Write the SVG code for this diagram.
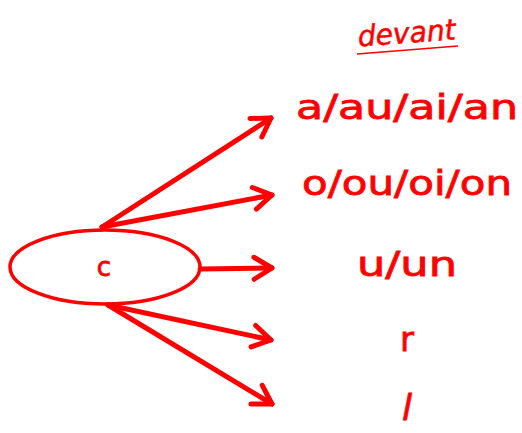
<svg xmlns="http://www.w3.org/2000/svg" width="522" height="433" viewBox="0 0 522 433">
<defs>
<style>
.t{font-family:"DejaVu Sans","Noto Sans",sans-serif;fill:#ff0000;stroke:#ff0000;stroke-width:0.8;text-anchor:middle}
.ln{stroke:#ff0000;stroke-width:5;fill:none;stroke-linecap:round;stroke-linejoin:round}
</style>
<marker id="ah" markerUnits="userSpaceOnUse" viewBox="-24 -14 28 28" markerWidth="28" markerHeight="28" refX="0" refY="0" orient="auto">
<polyline points="-18,-11 0,0 -18,11" fill="none" stroke="#ff0000" stroke-width="5" stroke-linecap="round" stroke-linejoin="round"/>
</marker>
</defs>
<rect width="522" height="433" fill="#ffffff"/>
<g id="title">
<text class="t" x="407" y="43" font-size="29" font-style="italic" textLength="98" lengthAdjust="spacingAndGlyphs" transform="rotate(-4 407 38)" style="stroke-width:0.5">devant</text>
<line x1="357" y1="54" x2="458" y2="46" stroke="#ff0000" stroke-width="1.5"/>
</g>
<g id="connectors">
<line class="ln" x1="102" y1="227" x2="271" y2="118" marker-end="url(#ah)"/>
<line class="ln" x1="102" y1="227" x2="272" y2="195" marker-end="url(#ah)"/>
<line class="ln" x1="200" y1="269" x2="272" y2="268" marker-end="url(#ah)"/>
<line class="ln" x1="108" y1="305" x2="271" y2="340" marker-end="url(#ah)"/>
<line class="ln" x1="108" y1="305" x2="272" y2="404" marker-end="url(#ah)"/>
</g>
<g id="node-c">
<ellipse cx="105" cy="267" rx="95" ry="37" fill="none" stroke="#ff0000" stroke-width="3.5"/>
<text class="t" x="104" y="276" font-size="26">c</text>
</g>
<g id="node-a">
<text class="t" x="407" y="119" font-size="34" textLength="222" lengthAdjust="spacingAndGlyphs">a/au/ai/an</text>
</g>
<g id="node-o">
<text class="t" x="407" y="195" font-size="34" textLength="210" lengthAdjust="spacingAndGlyphs">o/ou/oi/on</text>
</g>
<g id="node-u">
<text class="t" x="407" y="276" font-size="34" textLength="100" lengthAdjust="spacingAndGlyphs">u/un</text>
</g>
<g id="node-r">
<text class="t" x="407" y="351" font-size="34">r</text>
</g>
<g id="node-l">
<text class="t" x="407" y="420" font-size="36" font-style="italic">l</text>
</g>
</svg>
